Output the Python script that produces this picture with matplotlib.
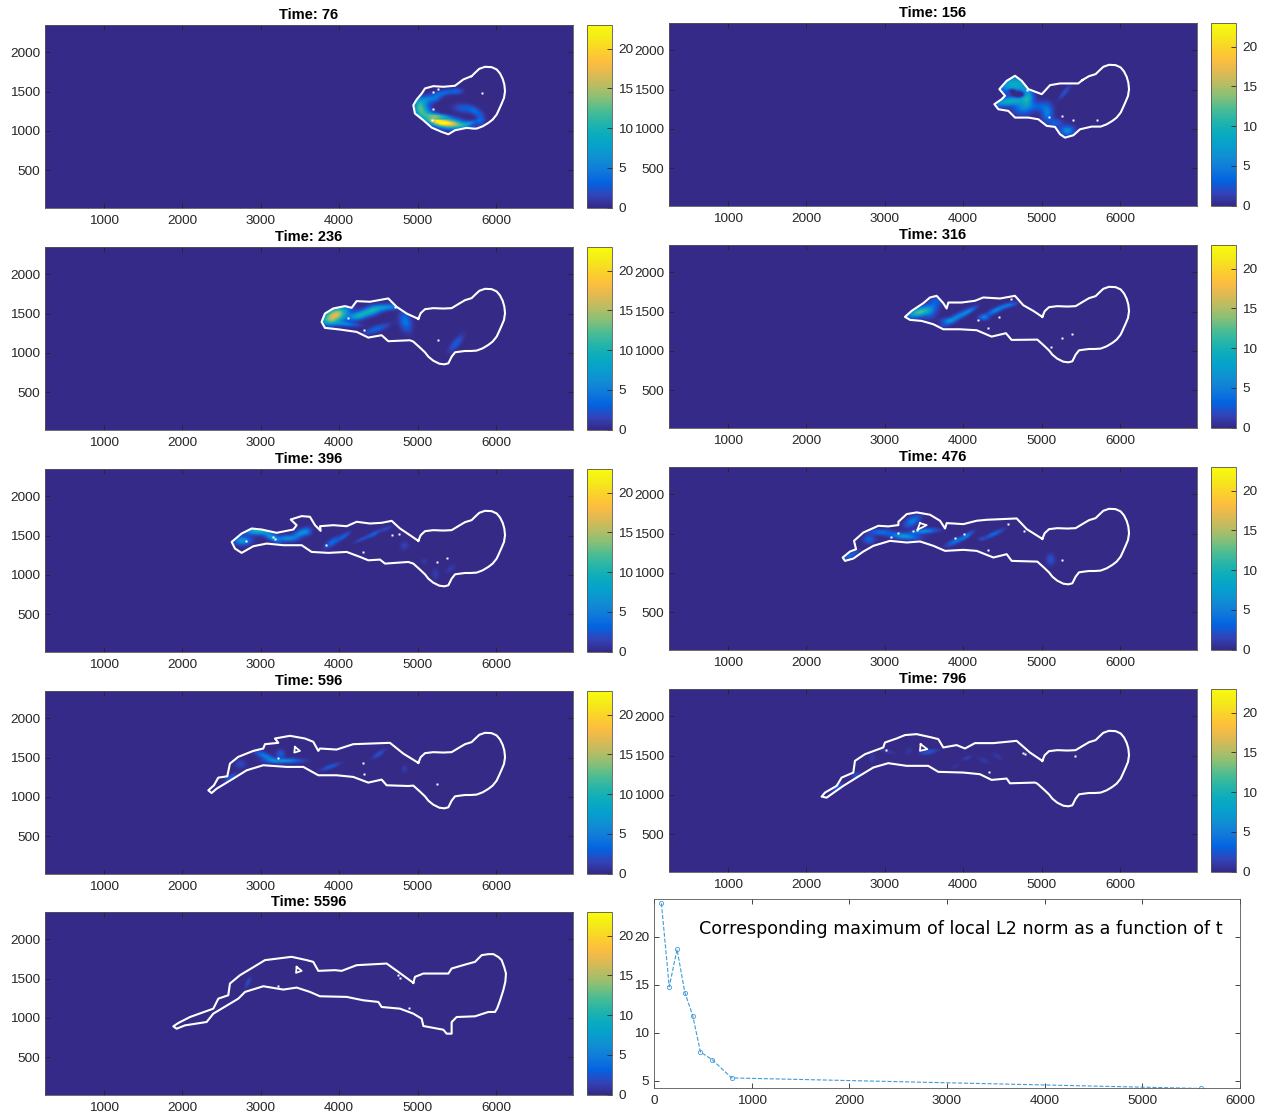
import numpy as np
import matplotlib
matplotlib.use('Agg')
import matplotlib.pyplot as plt
from matplotlib.colors import LinearSegmentedColormap
from matplotlib.patches import Polygon

plt.rcParams['font.family'] = ['Liberation Sans', 'DejaVu Sans']

# maximo local de la norma L2 por tiempo
times = [76, 156, 236, 316, 396, 476, 596, 796, 5596]
max_l2 = [23.5, 14.8, 18.7, 14.2, 11.8, 8.0, 7.2, 5.3, 4.2]

# contornos (x, y) leidos de la imagen
# el lobulo derecho es casi igual en todos los paneles
lobe = [(5010,1432),(5040,1504),(5095,1555),(5201,1568),(5329,1563),(5435,1568),(5520,1619),(5605,1669),
        (5690,1695),(5733,1737),(5788,1788),(5860,1813),(5945,1809),(6009,1780),(6052,1729),(6086,1661),
        (6107,1589),(6116,1504),(6103,1419),(6073,1347),(6039,1271),(6009,1207),(5958,1144),(5903,1102),
        (5831,1059),(5754,1030),(5678,1025),(5605,1025),(5542,1017),(5478,1008),(5435,953),(5393,869),
        (5342,856),(5278,864),(5201,902),(5138,953),(5095,1008),(5031,1068),(4946,1144)]

outline_76 = lobe[8:26] + [(5712,1030),(5627,1039),(5478,1009),(5393,958),(5308,988),(5180,1043),(5074,1136),
                           (4967,1221),(4946,1327),(4989,1399),(5053,1475),(5095,1539),(5201,1568),(5329,1560),
                           (5478,1573),(5584,1653)]
outline_156 = lobe[6:26] + [(5640,1030),(5491,996),(5406,920),(5299,890),(5236,933),(5172,1026),(5066,1039),
                            (4959,1123),(4832,1144),(4662,1144),(4577,1229),(4449,1250),(4398,1314),(4491,1377),
                            (4534,1420),(4462,1505),(4555,1610),(4662,1674),(4747,1610),(4832,1505),(5002,1441),
                            (5023,1462),(5108,1555),(5236,1577),(5469,1577)]
outline_236 = lobe + [(4903,1161),(4627,1149),(4542,1225),(4372,1195),(4223,1267),(4010,1297),(3819,1318),
                      (3776,1394),(3819,1500),(3925,1564),(4074,1594),(4159,1572),(4223,1657),(4393,1649),
                      (4627,1691),(4733,1585),(4861,1500)]
outline_316 = lobe + [(4618,1140),(4546,1225),(4363,1182),(4172,1263),(3959,1275),(3747,1275),(3619,1339),
                      (3470,1381),(3322,1394),(3258,1432),(3343,1508),(3492,1606),(3577,1678),(3662,1699),
                      (3747,1606),(3789,1538),(3811,1614),(3981,1614),(4151,1636),(4257,1678),(4470,1665),
                      (4661,1699),(4767,1580),(4895,1508)]
outline_396 = lobe + [(4882,1165),(4585,1144),(4521,1195),(4372,1186),(4266,1229),(4096,1292),(3862,1280),
                      (3649,1292),(3522,1377),(3288,1377),(3075,1398),(2905,1364),(2756,1280),(2671,1335),
                      (2629,1419),(2756,1525),(2884,1589),(3012,1576),(3203,1534),(3416,1576),(3458,1631),
                      (3382,1703),(3522,1746),(3628,1737),(3692,1631),(3764,1559),(3756,1618),(3926,1631),
                      (4096,1618),(4224,1674),(4394,1652),(4542,1661),(4670,1686),(4776,1589),(4904,1504)]
outline_476 = lobe + [(4619,1153),(4556,1238),(4386,1196),(4173,1280),(4003,1293),(3769,1280),(3620,1344),
                      (3450,1399),(3280,1386),(3067,1407),(2855,1344),(2727,1272),(2600,1183),(2493,1153),
                      (2464,1196),(2557,1272),(2634,1301),(2608,1407),(2727,1513),(2919,1598),(3046,1590),
                      (3174,1607),(3174,1649),(3280,1746),(3408,1768),(3578,1738),(3705,1662),(3769,1564),
                      (3790,1632),(4003,1619),(4173,1662),(4300,1674),(4683,1691),(4811,1556)]
outline_596 = lobe + [(4882,1139),(4606,1148),(4542,1220),(4372,1182),(4180,1254),(3968,1275),(3734,1275),
                      (3543,1381),(3330,1381),(3032,1402),(2820,1338),(2650,1233),(2437,1105),(2373,1050),
                      (2331,1084),(2403,1148),(2458,1245),(2573,1262),(2607,1423),(2713,1508),(2905,1584),
                      (3032,1614),(3054,1669),(3224,1686),(3181,1741),(3373,1775),(3564,1741),(3670,1699),
                      (3734,1584),(3755,1614),(3968,1601),(4180,1669),(4648,1686),(4818,1550)]
outline_796 = lobe + [(4916,1157),(4597,1148),(4555,1208),(4363,1191),(4214,1263),(4002,1284),(3683,1293),
                      (3555,1369),(3279,1369),(3045,1403),(2854,1348),(2641,1220),(2471,1115),(2259,966),
                      (2195,979),(2237,1030),(2386,1115),(2450,1220),(2599,1284),(2620,1432),(2748,1517),
                      (2981,1602),(3003,1665),(3151,1716),(3258,1759),(3407,1771),(3598,1729),(3683,1708),
                      (3747,1602),(3917,1632),(4023,1589),(4151,1657),(4385,1657),(4682,1686),(4852,1538)]
outline_5596 = [(4946,1445),(4967,1521),(5074,1563),(5393,1563),(5435,1627),(5626,1682),(5733,1711),(5818,1796),
                (5903,1809),(5967,1809),(6032,1772),(6073,1733),(6107,1640),(6128,1563),(6120,1460),(6094,1351),
                (6050,1215),(6015,1120),(5988,1076),(5903,1076),(5733,1021),(5499,1012),(5435,948),(5435,801),
                (5371,801),(5329,851),(5074,898),(5053,991),(4946,1055),(4776,1118),(4542,1139),(4500,1203),
                (4308,1224),(4096,1267),(3755,1275),(3628,1330),(3458,1385),(3288,1360),(3033,1402),(2799,1330),
                (2714,1245),(2395,1055),(2310,949),(2033,906),(1927,864),(1885,894),(1948,936),(2097,1012),
                (2395,1118),(2459,1245),(2586,1288),(2607,1436),(2735,1542),(2948,1669),(3054,1733),(3394,1775),
                (3586,1733),(3670,1711),(3734,1597),(3947,1606),(4032,1597),(4223,1669),(4606,1690),(4755,1584)]

# huecos triangulares
hole_596 = [(3436,1635),(3500,1584),(3428,1563)]
hole_796 = [(3458,1644),(3543,1581),(3449,1559)]
hole_5596 = [(3458,1648),(3522,1597),(3450,1572)]
hole_476 = [(3450,1632),(3535,1606),(3416,1547)]

# puntos blancos sueltos
specks_76 = [(5201,1488),(5265,1526),(5826,1484),(5201,1276),(5180,1145)]
specks_156 = [(4810,1496),(5100,1157),(5257,1166),(5397,1115),(5703,1115)]
specks_236 = [(4108,1437),(4321,1288),(5256,1161),(4712,1585)]
specks_316 = [(4185,1390),(4321,1288),(4457,1436),(5265,1161),(5392,1220),(5116,1051),(4610,1657)]
specks_396 = [(2807,1432),(3160,1483),(3186,1462),(3832,1377),(4308,1292),(4670,1504),(4768,1525),(5244,1165),(5371,1216)]
specks_476 = [(3080,1462),(3174,1501),(3365,1535),(3408,1547),(3897,1437),(4016,1492),(4322,1293),(4568,1619),(4781,1526),(5257,1166)]
specks_596 = [(4300,1432),(4317,1288),(5243,1160),(3224,1495)]
specks_796 = [(3015,1572),(4329,1293),(4767,1538),(4789,1517),(5426,1496)]
specks_5596 = [(4755,1542),(4776,1512),(4895,1131),(3224,1402)]

# manchas de la solucion: x, y, sx, sy, angulo, amplitud
blobs_76 = [(5371,1100,130,32,-8,19),(5223,1145,100,35,-25,11),(5053,1263,50,70,0,8),(5010,1327,35,60,0,6),
            (5116,1399,50,25,30,4),(5223,1411,50,25,30,4),(5350,1484,80,20,10,3.5),(5499,1496,40,20,0,2.5),
            (5584,1284,70,30,-5,3),(5733,1242,50,25,-30,3.5),(5797,1136,30,40,0,3),(5648,1094,70,14,15,4.5),
            (5286,1187,70,12,-5,6),(5265,1149,60,10,-5,-8)]
blobs_156 = [(4810,1399,40,70,0,8),(4598,1547,90,60,0,8),(4577,1335,110,30,10,9),(4725,1547,60,50,0,4),
             (4704,1420,45,22,0,-10),(4619,1471,30,15,0,-6),(4747,1271,70,60,0,5),(4959,1271,70,35,0,3),
             (5066,1187,40,60,0,5),(5172,1060,50,30,0,3),(5321,962,50,35,0,6),(5291,1449,60,15,50,2.5)]
blobs_236 = [(3946,1466,90,50,20,17),(3861,1394,60,30,0,4),(4074,1352,90,16,-5,5),(4244,1458,70,28,15,9),
             (4414,1521,70,30,15,9),(4605,1564,90,22,5,6),(4469,1288,90,22,20,3.5),(4839,1382,40,70,15,4.5),
             (5486,1106,70,25,50,3)]
blobs_316 = [(3428,1475,75,30,15,12),(3556,1487,50,50,0,4),(3641,1606,40,55,-30,3),(3896,1403,100,22,30,5.5),
             (4066,1487,60,15,30,4.5),(3789,1369,50,20,0,3),(4257,1411,35,20,0,5),(4406,1496,70,18,25,5.5),
             (4576,1564,60,15,15,4.5)]
blobs_396 = [(2756,1419,60,30,0,7),(2948,1546,90,28,0,10),(3139,1462,60,22,-25,7),(3330,1449,70,22,0,6),
             (3501,1513,60,25,25,6),(3586,1525,30,25,0,3),(3905,1398,60,22,35,4),(4054,1474,50,14,35,3.5),
             (4308,1449,70,12,25,2.5),(4436,1504,40,14,30,3),(4585,1568,50,15,20,1.8),(4827,1356,30,30,0,1.5),
             (5223,996,25,40,0,1.2),(5414,1059,40,20,40,1.2),(5082,1157,25,20,0,1.0)]
blobs_476 = [(2557,1208,60,16,30,4),(2791,1407,40,30,0,3.5),(2940,1501,80,20,0,4),(3237,1450,100,22,-5,7),
             (3492,1513,90,18,5,6),(3344,1640,60,30,30,5),(3896,1386,70,18,25,4.5),(4045,1458,50,14,35,4.5),
             (4385,1479,70,14,25,4),(4228,1420,25,15,0,1.5),(5108,1153,30,40,0,2.5)]
blobs_596 = [(2607,1233,45,16,30,3.5),(2735,1402,40,30,0,1.8),(3054,1499,80,22,-25,5),(3287,1444,120,16,0,6.5),
             (3245,1529,30,30,0,3),(3883,1368,70,14,20,3),(4499,1529,50,16,35,2.5),(4827,1338,20,25,0,1.3)]
blobs_796 = [(2386,1081,40,14,40,3.5),(2620,1233,30,13,35,3),(2833,1454,25,30,0,1),(3024,1538,60,12,-15,1.2),
             (3555,1530,60,16,10,2.8),(3300,1538,30,25,45,0.8),(4044,1454,35,12,20,1.5),(4257,1420,40,18,-20,1),
             (4427,1475,40,18,-30,1),(3896,1348,30,12,30,0.8)]
blobs_5596 = [(2829,1445,40,14,65,2.2)]

# parula (muestreada)
parula = LinearSegmentedColormap.from_list('parula', [
    (0.2081,0.1663,0.5292),(0.1959,0.2645,0.7279),(0.0117,0.3875,0.8820),(0.0629,0.4737,0.8554),
    (0.0641,0.5570,0.8240),(0.0239,0.6287,0.8038),(0.0384,0.6743,0.7436),(0.1453,0.7098,0.6646),
    (0.3022,0.7376,0.5712),(0.5300,0.7491,0.4661),(0.7184,0.7411,0.3905),(0.8824,0.7274,0.3217),
    (0.9938,0.7455,0.2403),(0.9789,0.8271,0.1633),(0.9598,0.9218,0.0948),(0.9763,0.9831,0.0538)])

W, H = 1269, 1120
XLIM = (248, 6983)
YLIM = (30, 2343)
VMAX = 23.0
TXT = '#262626'
FS = 9.7

gx, gy = np.meshgrid(np.arange(XLIM[0], XLIM[1], 20.0), np.arange(YLIM[0], YLIM[1], 20.0))


def px_axes(fig, x0, y0, x1, y1):
    return fig.add_axes([x0/W, 1 - y1/H, (x1-x0)/W, (y1-y0)/H])


def campo(blobs):
    z = np.zeros_like(gx)
    for x, y, sx, sy, ang, amp in blobs:
        a = np.deg2rad(ang)
        u = (gx-x)*np.cos(a) + (gy-y)*np.sin(a)
        v = -(gx-x)*np.sin(a) + (gy-y)*np.cos(a)
        # 1.2: las manchas se ven algo mas anchas en el original
        z += amp*np.exp(-0.5*((u/(1.2*sx))**2 + (v/(1.2*sy))**2))
    return np.clip(z, 0, None)


def estilo(ax, xpad):
    ax.tick_params(direction='in', top=True, right=True, length=3.5, width=0.6,
                   color=TXT, labelcolor=TXT, labelsize=FS, pad=3.5)
    ax.tick_params(axis='x', pad=xpad)
    for s in ax.spines.values():
        s.set_linewidth(0.6)
        s.set_color('#555555')


def panel(fig, t, outline, blobs, specks, hole, col, top):
    x0 = 45 if col == 0 else 669
    ax = px_axes(fig, x0, top, x0+528, top+182.5)
    ax.set_facecolor(parula(0.0))
    im = ax.imshow(campo(blobs), origin='lower', extent=[XLIM[0], XLIM[1], YLIM[0], YLIM[1]],
                   cmap=parula, vmin=0, vmax=VMAX, aspect='auto', interpolation='bilinear')
    pts = np.array(outline + outline[:1])
    im.set_clip_path(Polygon(pts, transform=ax.transData))
    ax.plot(pts[:, 0], pts[:, 1], color='white', lw=1.5, solid_joinstyle='round')
    if hole:
        h = np.array(hole + hole[:1])
        ax.plot(h[:, 0], h[:, 1], color='white', lw=1.3)
    s = np.array(specks)
    ax.plot(s[:, 0], s[:, 1], ls='none', marker='s', ms=1.6, mfc='white', mec='none')
    ax.set_xlim(XLIM)
    ax.set_ylim(YLIM)
    ax.set_xticks(range(1000, 7000, 1000))
    ax.set_yticks(range(500, 2500, 500))
    estilo(ax, 5.5)
    ax.set_title('Time: %d' % t, fontsize=10.5, fontweight='bold', color='black', pad=4.5)

    cax = px_axes(fig, x0+542, top, x0+567, top+182.5)
    cb = fig.colorbar(im, cax=cax)
    cb.set_ticks([0, 5, 10, 15, 20])
    cax.tick_params(direction='in', length=3.5, width=0.6, color=TXT, labelcolor=TXT, labelsize=FS, pad=4.5)
    cb.outline.set_linewidth(0.6)
    cb.outline.set_edgecolor('#555555')


fig = plt.figure(figsize=(W/100, H/100), dpi=100)

panel(fig, 76, outline_76, blobs_76, specks_76, None, 0, 25)
panel(fig, 156, outline_156, blobs_156, specks_156, None, 1, 23)
panel(fig, 236, outline_236, blobs_236, specks_236, None, 0, 247)
panel(fig, 316, outline_316, blobs_316, specks_316, None, 1, 245)
panel(fig, 396, outline_396, blobs_396, specks_396, None, 0, 469)
panel(fig, 476, outline_476, blobs_476, specks_476, hole_476, 1, 467)
panel(fig, 596, outline_596, blobs_596, specks_596, hole_596, 0, 691)
panel(fig, 796, outline_796, blobs_796, specks_796, hole_796, 1, 689)
panel(fig, 5596, outline_5596, blobs_5596, specks_5596, hole_5596, 0, 912)

# curva del maximo
ax = px_axes(fig, 654, 899, 1240, 1088)
ax.plot(times, max_l2, ls='--', lw=0.8, color='#3f9bd6', marker='o', ms=3, mfc='none', mew=0.6)
ax.set_xlim(0, 6000)
ax.set_ylim(4.25, 23.95)
ax.set_xticks(range(0, 7000, 1000))
ax.set_yticks([5, 10, 15, 20])
estilo(ax, 5)
ax.text(461, 20.85, 'Corresponding maximum of local L2 norm as a function of t',
        family='DejaVu Sans', fontsize=12.6, color='black', va='center')

fig.savefig('out.png', dpi=100)
